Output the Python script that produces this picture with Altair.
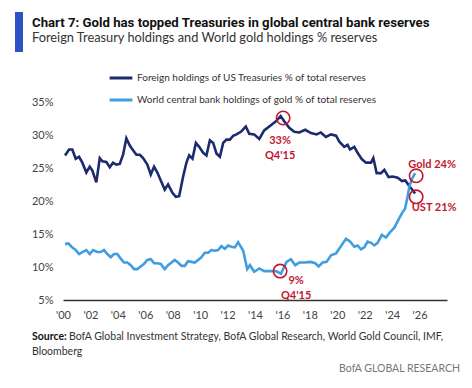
import altair as alt
import pandas as pd

# ---------------- data ----------------
ust_year = [2000.15, 2000.44, 2000.68, 2000.93, 2001.17, 2001.41, 2001.70, 2001.95, 2002.14, 2002.43,
            2002.68, 2002.87, 2003.16, 2003.41, 2003.65, 2003.89, 2004.14, 2004.38, 2004.62, 2004.87,
            2005.11, 2005.35, 2005.60, 2005.84, 2006.15, 2006.40, 2006.64, 2006.88, 2007.13, 2007.42,
            2007.66, 2007.98, 2008.23, 2008.47, 2008.76, 2009.00, 2009.20, 2009.44, 2009.69, 2009.93,
            2010.22, 2010.46, 2010.71, 2010.95, 2011.19, 2011.44, 2011.68, 2011.92, 2012.17, 2012.41,
            2012.65, 2012.97, 2013.33, 2013.58, 2013.94, 2014.31, 2014.67, 2015.04, 2015.53, 2015.87,
            2016.13, 2016.50, 2016.86, 2017.23, 2017.66, 2018.08, 2018.49, 2018.80, 2019.17, 2019.54,
            2019.91, 2020.15, 2020.51, 2020.75, 2020.93, 2021.24, 2021.48, 2021.80, 2022.09, 2022.46,
            2022.63, 2022.87, 2023.19, 2023.43, 2023.74, 2024.04, 2024.40, 2024.72, 2024.96, 2025.26,
            2025.50, 2025.67]
ust_value = [27.0, 27.9, 27.9, 26.5, 26.8, 25.9, 24.4, 25.3, 24.7, 22.9,
             26.6, 26.1, 26.0, 25.2, 25.9, 25.6, 25.7, 27.1, 29.6, 28.5,
             27.8, 27.1, 27.1, 26.6, 25.6, 24.1, 25.3, 24.4, 23.2, 21.8,
             22.6, 21.3, 20.7, 20.8, 23.8, 25.9, 27.0, 26.5, 28.9, 28.3,
             27.4, 27.0, 29.3, 28.9, 27.3, 26.8, 28.9, 29.4, 29.4, 30.0,
             30.2, 30.6, 31.4, 30.3, 30.2, 29.5, 30.8, 31.4, 32.2, 33.0,
             32.2, 31.2, 30.6, 30.5, 30.9, 30.4, 30.2, 30.5, 29.8, 30.2,
             30.0, 29.1, 28.3, 28.6, 27.9, 28.3, 27.4, 26.4, 25.9, 25.9,
             26.6, 24.3, 24.3, 24.8, 23.7, 23.8, 23.6, 23.1, 23.2, 22.3,
             21.7, 21.2]

gold_year = [2000.15, 2000.39, 2000.68, 2000.93, 2001.17, 2001.41, 2001.70, 2001.95, 2002.19, 2002.50,
             2002.75, 2002.99, 2003.23, 2003.48, 2003.72, 2003.96, 2004.21, 2004.45, 2004.69, 2004.94,
             2005.18, 2005.42, 2005.67, 2005.91, 2006.15, 2006.40, 2006.64, 2006.88, 2007.13, 2007.42,
             2007.66, 2007.91, 2008.15, 2008.39, 2008.64, 2008.88, 2009.12, 2009.36, 2009.61, 2009.85,
             2010.09, 2010.34, 2010.58, 2010.82, 2011.07, 2011.31, 2011.55, 2011.80, 2012.04, 2012.28,
             2012.53, 2012.77, 2013.14, 2013.43, 2013.63, 2013.94, 2014.31, 2014.67, 2015.16, 2015.53,
             2015.89, 2016.30, 2016.62, 2016.93, 2017.23, 2017.59, 2018.08, 2018.39, 2018.64, 2018.93,
             2019.22, 2019.54, 2019.91, 2020.27, 2020.63, 2020.93, 2021.24, 2021.48, 2021.73, 2021.97,
             2022.21, 2022.46, 2022.70, 2022.94, 2023.25, 2023.55, 2023.80, 2024.16, 2024.53, 2024.77,
             2024.94, 2025.13, 2025.26, 2025.42, 2025.67]
gold_value = [13.5, 13.6, 13.0, 12.6, 12.0, 12.3, 12.6, 12.0, 12.6, 12.3,
              12.3, 12.6, 12.0, 11.5, 12.0, 12.0, 11.3, 10.7, 10.7, 10.3,
              9.7, 9.7, 10.1, 10.5, 11.1, 11.2, 10.6, 10.6, 10.5, 9.7,
              10.3, 10.7, 11.1, 10.7, 10.2, 10.2, 10.9, 10.8, 10.7, 11.1,
              11.5, 12.2, 12.2, 12.6, 12.5, 12.6, 13.2, 12.8, 13.3, 13.1,
              13.0, 13.8, 12.5, 9.7, 10.3, 9.3, 9.8, 9.4, 9.4, 9.4,
              9.0, 10.8, 11.2, 10.3, 10.7, 10.7, 10.8, 10.6, 10.1, 10.7,
              10.8, 11.8, 12.1, 13.2, 14.3, 13.9, 13.1, 13.3, 12.7, 13.0,
              13.9, 13.7, 13.3, 13.7, 14.9, 14.5, 15.2, 16.0, 17.5, 18.4,
              18.9, 20.8, 22.3, 23.3, 24.3]

series_names = ["Foreign holdings of US Treasuries % of total reserves",
                "World central bank holdings of gold % of total reserves"]
series_colors = ["#1c2a6e", "#3f9de0"]

x_ticks = list(range(2000, 2027, 2))
y_ticks = [5, 10, 15, 20, 25, 30, 35]

# annotation anchors (circled points)
ann_year = [2016.05, 2015.83, 2025.75, 2025.75]
ann_value = [32.7, 9.4, 23.9, 20.7]
ann_text = ["33%\nQ4'15", "9%\nQ4'15", "Gold 24%", "UST 21%"]

title_text = "Chart 7: Gold has topped Treasuries in global central bank reserves"
subtitle_text = "Foreign Treasury holdings and World gold holdings % reserves"
source_bold = "Source:"
source_rest = "BofA Global Investment Strategy, BofA Global Research, World Gold Council, IMF,"
source_line2 = "Bloomberg"
brand_text = "BofA GLOBAL RESEARCH"

# ---------------- build ----------------
df = pd.concat([
    pd.DataFrame({"year": ust_year, "value": ust_value, "series": series_names[0]}),
    pd.DataFrame({"year": gold_year, "value": gold_value, "series": series_names[1]}),
], ignore_index=True)

ann = pd.DataFrame({"year": ann_year, "value": ann_value, "text": ann_text})

FONT = "Lato"
TFONT = "Liberation Sans Narrow, Roboto"
RED = "#c4162f"

W, H = 384, 230
xs = alt.Scale(domain=[2000, 2028], nice=False, zero=False)
ys = alt.Scale(domain=[5, 40], nice=False, zero=False)

x_axis = alt.Axis(values=x_ticks, title=None, grid=False, ticks=False,
                  labelExpr="\"'\" + substring(toString(datum.value), 2, 4)",
                  labelOverlap=False, labelFlush=False, labelBound=False,
                  domainColor="#333333", domainWidth=1.5, labelFontSize=11,
                  labelColor="#444444", labelPadding=9, labelFont=FONT)
y_axis = alt.Axis(values=y_ticks, title=None, grid=False, ticks=False, domain=False,
                  labelOverlap=False, labelFlush=False, labelBound=False,
                  labelExpr="datum.value + '%'", labelFontSize=11,
                  labelColor="#444444", labelPadding=10, labelFont=FONT)


def X():
    return alt.X("year:Q", scale=xs, axis=x_axis)


def Y():
    return alt.Y("value:Q", scale=ys, axis=y_axis)


lines = alt.Chart(df).mark_line(strokeWidth=2.6).encode(
    x=X(), y=Y(),
    color=alt.Color("series:N", scale=alt.Scale(domain=series_names, range=series_colors),
                    legend=alt.Legend(title=None, orient="none", legendX=45, legendY=-5,
                                      direction="vertical", symbolType="stroke",
                                      symbolStrokeWidth=3, symbolSize=520,
                                      labelFontSize=10, labelColor="#333333", labelFont=FONT,
                                      labelLimit=500, rowPadding=3, labelOffset=3)),
)

circles = alt.Chart(ann).mark_point(shape="circle", size=180, filled=False,
                                    stroke=RED, strokeWidth=1.6, opacity=1).encode(x=X(), y=Y())


def ann_label(i, dx, dy, align, baseline):
    return alt.Chart(ann.iloc[[i]]).mark_text(
        align=align, baseline=baseline, dx=dx, dy=dy, fontSize=11, fontWeight="bold",
        font=FONT, color=RED, lineBreak="\n", lineHeight=15).encode(
        x=X(), y=Y(), text="text:N")


labels = (ann_label(0, -3, 17, "center", "top") +
          ann_label(1, 16, 4, "center", "top") +
          ann_label(2, 16, -11, "center", "middle") +
          ann_label(3, 18, 11, "center", "middle"))

one = pd.DataFrame({"a": [0]})

bar = alt.Chart(one).mark_rect(color="#2d52c6").encode(
    x=alt.value(-48), x2=alt.value(-40), y=alt.value(-58), y2=alt.value(-18))


def txt(s, x, y, size, weight="normal", color="#222222", align="left", font=FONT):
    return alt.Chart(pd.DataFrame({"t": [s]})).mark_text(
        align=align, baseline="alphabetic", fontSize=size, fontWeight=weight,
        color=color, font=font).encode(x=alt.value(x), y=alt.value(y), text="t:N")


texts = (txt(title_text, -31, -43, 13.2, "bold", "#111111", font=TFONT) +
         txt(subtitle_text, -31, -28, 12.8, "normal", "#333333") +
         txt(source_bold, -31, 270, 10.5, "bold", "#111111") +
         txt(source_rest, 6, 270, 10.5, "normal", "#333333") +
         txt(source_line2, -31, 285, 10.5, "normal", "#333333") +
         txt(brand_text, 397, 302, 10.5, "normal", "#777777", align="right"))

chart = alt.layer(lines, circles, labels, bar, texts).properties(
    width=W, height=H, background="white",
    padding={"left": 55, "top": 62, "right": 17, "bottom": 78},
    autosize=alt.AutoSizeParams(type="none"),
).configure_view(stroke=None).configure_axis(labelOverlap=False)

chart.save("out.html", embed_options={"renderer": "svg", "actions": False})
